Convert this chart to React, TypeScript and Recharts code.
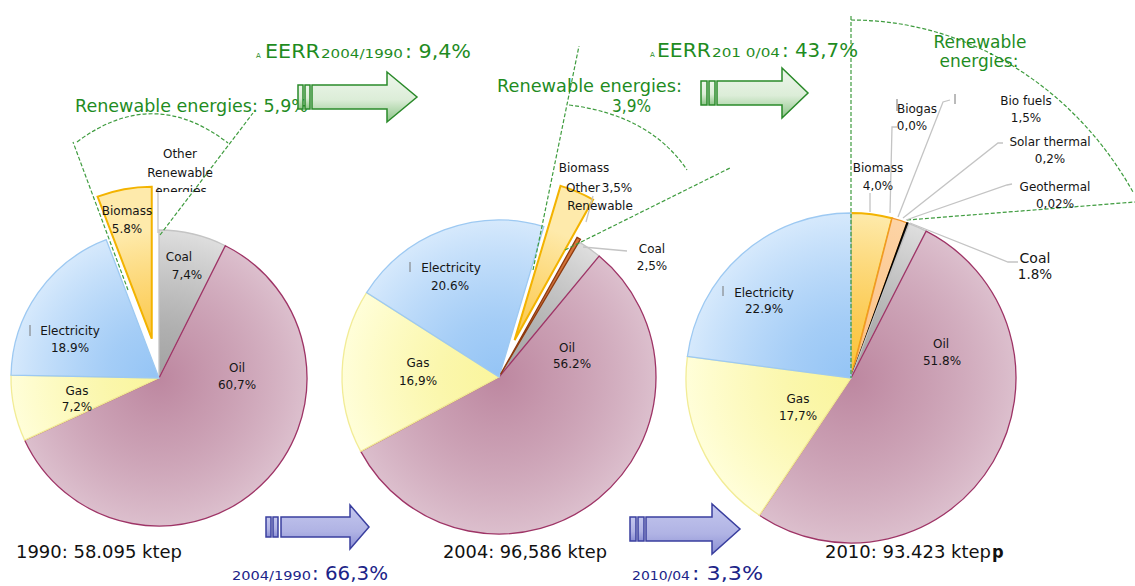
import React from 'react';
import { PieChart, Pie, Cell } from 'recharts';

// Final energy consumption by source, % of total
const names1990 = ['Coal', 'Oil', 'Gas', 'Electricity', 'Biomass'];
const values1990 = [7.4, 60.7, 7.2, 18.9, 5.8];
const labels1990 = ['7,4%', '60,7%', '7,2%', '18.9%', '5.8%'];

const names2004 = ['Biomass', 'Other Renewable', 'Coal', 'Oil', 'Gas', 'Electricity'];
const values2004 = [3.5, 0.4, 2.5, 56.2, 16.9, 20.6];
const labels2004 = ['3,5%', '0,4%', '2,5%', '56.2%', '16,9%', '20.6%'];

const names2010 = ['Biomass', 'Biogas', 'Bio fuels', 'Solar thermal', 'Geothermal', 'Coal', 'Oil', 'Gas', 'Electricity'];
const values2010 = [4.0, 0.0, 1.5, 0.2, 0.02, 1.8, 51.8, 17.7, 22.9];
const labels2010 = ['4,0%', '0,0%', '1,5%', '0,2%', '0,02%', '1.8%', '51.8%', '17,7%', '22.9%'];

const years = ['1990', '2004', '2010'];
const totals = ['58.095', '96,586', '93.423'];
const renewableShares = ['5,9%', '3,9%'];
const eerrPeriods = ['2004/1990', '201 0/04'];
const eerrGrowth = ['9,4%', '43,7%'];
const totalPeriods = ['2004/1990', '2010/04'];
const totalGrowth = ['66,3%', '3,3%'];

const COLORS: Record<string, { inner: string; outer: string; stroke: string }> = {
  Coal: { inner: '#a2a2a2', outer: '#dedede', stroke: '#c4c4c4' },
  Oil: { inner: '#bd87a0', outer: '#dcbfcd', stroke: '#9e3466' },
  Gas: { inner: '#faf59c', outer: '#fffed9', stroke: '#f2ec96' },
  Electricity: { inner: '#94c4f5', outer: '#d6e9fc', stroke: '#9dc9f2' },
  Biomass: { inner: '#fbc236', outer: '#feeaab', stroke: '#f3b300' },
  'Other Renewable': { inner: '#b8501a', outer: '#d9773a', stroke: '#8e3a0e' },
  Biogas: { inner: '#f7a040', outer: '#f7a040', stroke: '#e08a20' },
  'Bio fuels': { inner: '#fbbd7c', outer: '#fdd4a6', stroke: '#f0962a' },
  'Solar thermal': { inner: '#000000', outer: '#1a1a1a', stroke: '#000000' },
  Geothermal: { inner: '#444444', outer: '#666666', stroke: '#444444' },
};

const PIES = [
  { id: 'p1990', names: names1990, values: values1990, cx: 159, cy: 378, r: 148, start: 90, explode: { Biomass: 40 } as Record<string, number> },
  { id: 'p2004', names: names2004, values: values2004, cx: 499, cy: 377, r: 157, start: 73.4, explode: { Biomass: 40, 'Other Renewable': 3 } as Record<string, number> },
  { id: 'p2010', names: names2010, values: values2010, cx: 851, cy: 378, r: 165, start: 90, explode: {} as Record<string, number> },
];

const gid = (pie: string, name: string) => `${pie}-${name.replace(/\s/g, '')}`;

const GREEN = '#1f8c1f';
const NAVY = '#1c2488';

function pieLayers(p: (typeof PIES)[number]) {
  const data = p.names.map((name, i) => ({ name, value: p.values[i] }));
  const total = p.values.reduce((a, b) => a + b, 0);
  const cellFor = (name: string, visible: boolean) => (
    <Cell
      key={name}
      fill={visible ? `url(#${gid(p.id, name)})` : 'none'}
      stroke={visible ? COLORS[name].stroke : 'none'}
      strokeWidth={name === 'Biomass' ? 2 : 1.3}
    />
  );
  const layers = [
    <Pie
      key={`${p.id}-base`}
      data={data}
      dataKey="value"
      cx={p.cx}
      cy={p.cy}
      outerRadius={p.r}
      startAngle={p.start}
      endAngle={p.start - 360}
      isAnimationActive={false}
    >
      {data.map((d) => cellFor(d.name, !(d.name in p.explode)))}
    </Pie>,
  ];
  Object.keys(p.explode).forEach((name) => {
    const idx = p.names.indexOf(name);
    const before = p.values.slice(0, idx).reduce((a, b) => a + b, 0);
    const mid = ((p.start - (360 * (before + p.values[idx] / 2)) / total) * Math.PI) / 180;
    const dist = p.explode[name];
    layers.push(
      <Pie
        key={`${p.id}-${name}`}
        data={data}
        dataKey="value"
        cx={p.cx + dist * Math.cos(mid)}
        cy={p.cy - dist * Math.sin(mid)}
        outerRadius={p.r + (dist > 10 ? 4 : 0)}
        startAngle={p.start}
        endAngle={p.start - 360}
        isAnimationActive={false}
      >
        {data.map((d) => cellFor(d.name, d.name === name))}
      </Pie>
    );
  });
  return layers;
}

// slice label placement: [text, x, y, fontSize?]
const sliceLabels: [string, number, number, number?][] = [
  [names1990[0], 179, 261], [labels1990[0], 187, 279],
  [names1990[1], 237, 372], [labels1990[1], 237, 389],
  [names1990[2], 77, 395], [labels1990[2], 77, 411],
  [names1990[3], 70, 335], [labels1990[3], 70, 352],
  [names1990[4], 127, 215], [labels1990[4], 127, 233],

  [names2004[0], 584, 172], [labels2004[0], 617, 192],
  ['Other', 583, 192], ['Renewable', 600, 210],
  [names2004[2], 652, 253], [labels2004[2], 652, 270],
  [names2004[3], 567, 352], [labels2004[3], 572, 368],
  [names2004[4], 418, 367], [labels2004[4], 418, 385],
  [names2004[5], 451, 272], [labels2004[5], 450, 290],

  [names2010[0], 878, 172], [labels2010[0], 878, 190],
  [names2010[1], 917, 113], [labels2010[1], 912, 130],
  [names2010[2], 1026, 105], [labels2010[2], 1026, 122],
  [names2010[3], 1050, 146], [labels2010[3], 1050, 163],
  [names2010[4], 1055, 191], [labels2010[4], 1055, 208],
  [names2010[5], 1035, 263, 14], [labels2010[5], 1035, 279, 13.5],
  [names2010[6], 941, 348], [labels2010[6], 942, 365],
  [names2010[7], 798, 403], [labels2010[7], 798, 420],
  [names2010[8], 764, 297], [labels2010[8], 764, 313],
];

function Arrow(props: { x: number; bar: number; body: number; head: number; tip: number; cy: number; bh: number; hh: number; fill: string; stroke: string }) {
  const { x, bar, body, head, tip, cy, bh, hh, fill, stroke } = props;
  return (
    <g stroke={stroke} strokeWidth={1.5} fill={fill}>
      <rect x={x} y={cy - bh} width={bar} height={bh * 2} />
      <rect x={x + bar + 2} y={cy - bh} width={bar} height={bh * 2} />
      <path
        d={`M${body},${cy - bh} L${head},${cy - bh} L${head},${cy - hh} L${tip},${cy} L${head},${cy + hh} L${head},${cy + bh} L${body},${cy + bh} Z`}
        strokeLinejoin="miter"
      />
    </g>
  );
}

const dashed = { stroke: '#3f9c3f', strokeWidth: 1.2, strokeDasharray: '4 2', fill: 'none' };
const leader = { stroke: '#c4c4c4', strokeWidth: 1.3, fill: 'none' };

export default function App() {
  return (
    <div style={{ position: 'absolute', left: 0, top: 0, width: 1135, height: 586, background: '#fff', overflow: 'hidden' }}>
      <svg width={0} height={0} style={{ position: 'absolute' }}>
        <defs>
          {PIES.flatMap((p) =>
            p.names.map((n) => (
              <radialGradient key={gid(p.id, n)} id={gid(p.id, n)} gradientUnits="userSpaceOnUse" cx={p.cx} cy={p.cy} r={p.r}>
                <stop offset="0" stopColor={COLORS[n].inner} />
                <stop offset="0.35" stopColor={COLORS[n].inner} stopOpacity={0.85} />
                <stop offset="1" stopColor={COLORS[n].outer} />
              </radialGradient>
            ))
          )}
          <linearGradient id="gArrow" x1="0" y1="0" x2="0" y2="1">
            <stop offset="0" stopColor="#eef7ec" />
            <stop offset="0.55" stopColor="#dcedd8" />
            <stop offset="1" stopColor="#8cc487" />
          </linearGradient>
          <linearGradient id="bArrow" x1="0" y1="0" x2="0" y2="1">
            <stop offset="0" stopColor="#c4c7ee" />
            <stop offset="0.6" stopColor="#b0b3e4" />
            <stop offset="1" stopColor="#8a8ed3" />
          </linearGradient>
          <clipPath id="clipOther">
            <rect x={120} y={140} width={120} height={52} />
          </clipPath>
        </defs>
      </svg>

      <div style={{ position: 'absolute', left: 0, top: 0 }}>
        <PieChart width={1135} height={586} margin={{ top: 0, right: 0, bottom: 0, left: 0 }}>
          {PIES.flatMap((p) => pieLayers(p))}
        </PieChart>
      </div>

      <svg width={1135} height={586} style={{ position: 'absolute', left: 0, top: 0, pointerEvents: 'none' }} fontFamily="DejaVu Sans, sans-serif">
        {/* renewable zoom wedges */}
        <path d="M128,290 L73,142 M160,235 L253,113 M77,142 Q153,85 228,143" {...dashed} />
        <path d="M533,270 L579,46 M565,250 L730,168 M569,105 Q650,115 687,170" {...dashed} />
        <path d="M851,16 L851,378 M907,220 L1135,202 M851,20 A330,358 0 0 1 1133,192" {...dashed} />

        {/* leader lines */}
        <path d="M158,187 L158,233" {...leader} />
        <path d="M583,247 L627,251 M593,196 L586,222" {...leader} />
        <path
          d="M870,193 L870,212 M890,213 L892,127 L897,127 M898,217 L943,102 L950,100 M903,218 L998,143 L1003,143 M906,220 L1007,185 L1012,184 M910,223 L1008,262 L1018,262"
          {...leader}
        />
        <path d="M30,325 L30,336 M410,262 L410,272 M723,286 L723,296 M897,99 L897,111 M955,94 L955,104" stroke="#777" strokeWidth={1} />

        {/* slice labels */}
        {sliceLabels.map(([t, x, y, fs], i) => (
          <text key={i} x={x} y={y} textAnchor="middle" fontSize={fs ?? 12} fill="#151515">
            {t}
          </text>
        ))}
        <g clipPath="url(#clipOther)" fontSize={12} fill="#151515" textAnchor="middle">
          <text x={180} y={158}>Other</text>
          <text x={180} y={177}>Renewable</text>
          <text x={181} y={195}>energies</text>
        </g>

        {/* renewable share titles */}
        <text x={75} y={112} fontSize={18} fill={GREEN} textLength={233} lengthAdjust="spacingAndGlyphs">
          {`Renewable energies: ${renewableShares[0]}`}
        </text>
        <text x={497} y={92} fontSize={18} fill={GREEN} textLength={185} lengthAdjust="spacingAndGlyphs">
          Renewable energies:
        </text>
        <text x={612} y={112} fontSize={18} fill={GREEN} textLength={39} lengthAdjust="spacingAndGlyphs">
          {renewableShares[1]}
        </text>
        <text x={980} y={48} fontSize={17} fill={GREEN} textAnchor="middle">Renewable</text>
        <text x={979} y={67} fontSize={17} fill={GREEN} textAnchor="middle">energies:</text>

        {/* EERR growth */}
        <text x={256} y={58} fontSize={7} fill={GREEN}>A</text>
        <text x={265} y={58} fontSize={19} fill={GREEN} textLength={55} lengthAdjust="spacingAndGlyphs">EERR</text>
        <text x={321} y={58} fontSize={13} fill={GREEN} textLength={82} lengthAdjust="spacingAndGlyphs">{eerrPeriods[0]}</text>
        <text x={405} y={58} fontSize={20} fill={GREEN} textLength={66} lengthAdjust="spacingAndGlyphs">{`: ${eerrGrowth[0]}`}</text>

        <text x={650} y={57} fontSize={7} fill={GREEN}>A</text>
        <text x={657} y={57} fontSize={19} fill={GREEN} textLength={54} lengthAdjust="spacingAndGlyphs">EERR</text>
        <text x={712} y={57} fontSize={13} fill={GREEN} textLength={68} lengthAdjust="spacingAndGlyphs">{eerrPeriods[1]}</text>
        <text x={782} y={57} fontSize={20} fill={GREEN} textLength={76} lengthAdjust="spacingAndGlyphs">{`: ${eerrGrowth[1]}`}</text>

        <Arrow x={298} bar={5} body={312} head={387} tip={417} cy={97} bh={12} hh={25} fill="url(#gArrow)" stroke="#2a8a2a" />
        <Arrow x={701} bar={6} body={717} head={782} tip={808} cy={93} bh={12} hh={25} fill="url(#gArrow)" stroke="#2a8a2a" />
        <Arrow x={266} bar={5} body={281} head={350} tip={369} cy={527} bh={10} hh={22} fill="url(#bArrow)" stroke="#3a3f9f" />
        <Arrow x={630} bar={6} body={646} head={712} tip={740} cy={529} bh={12} hh={25} fill="url(#bArrow)" stroke="#3a3f9f" />

        {/* totals */}
        <g fontFamily="DejaVu Sans Condensed, DejaVu Sans, sans-serif" fontSize={18} fill="#111">
          <text x={16} y={558} textLength={166} lengthAdjust="spacingAndGlyphs">{`${years[0]}: ${totals[0]} ktep`}</text>
          <text x={443} y={558} textLength={164} lengthAdjust="spacingAndGlyphs">{`${years[1]}: ${totals[1]} ktep`}</text>
          <text x={825} y={558} textLength={166} lengthAdjust="spacingAndGlyphs">{`${years[2]}: ${totals[2]} ktep`}</text>
          <text x={992} y={558} fontWeight="bold">p</text>
        </g>

        {/* total consumption growth */}
        <text x={232} y={580} fontSize={12} fill={NAVY} textLength={79} lengthAdjust="spacingAndGlyphs">{totalPeriods[0]}</text>
        <text x={312} y={580} fontSize={20} fill={NAVY} textLength={76} lengthAdjust="spacingAndGlyphs">{`: ${totalGrowth[0]}`}</text>
        <text x={632} y={580} fontSize={12} fill={NAVY} textLength={58} lengthAdjust="spacingAndGlyphs">{totalPeriods[1]}</text>
        <text x={692} y={580} fontSize={20} fill={NAVY} textLength={71} lengthAdjust="spacingAndGlyphs">{`: ${totalGrowth[1]}`}</text>
      </svg>
    </div>
  );
}
